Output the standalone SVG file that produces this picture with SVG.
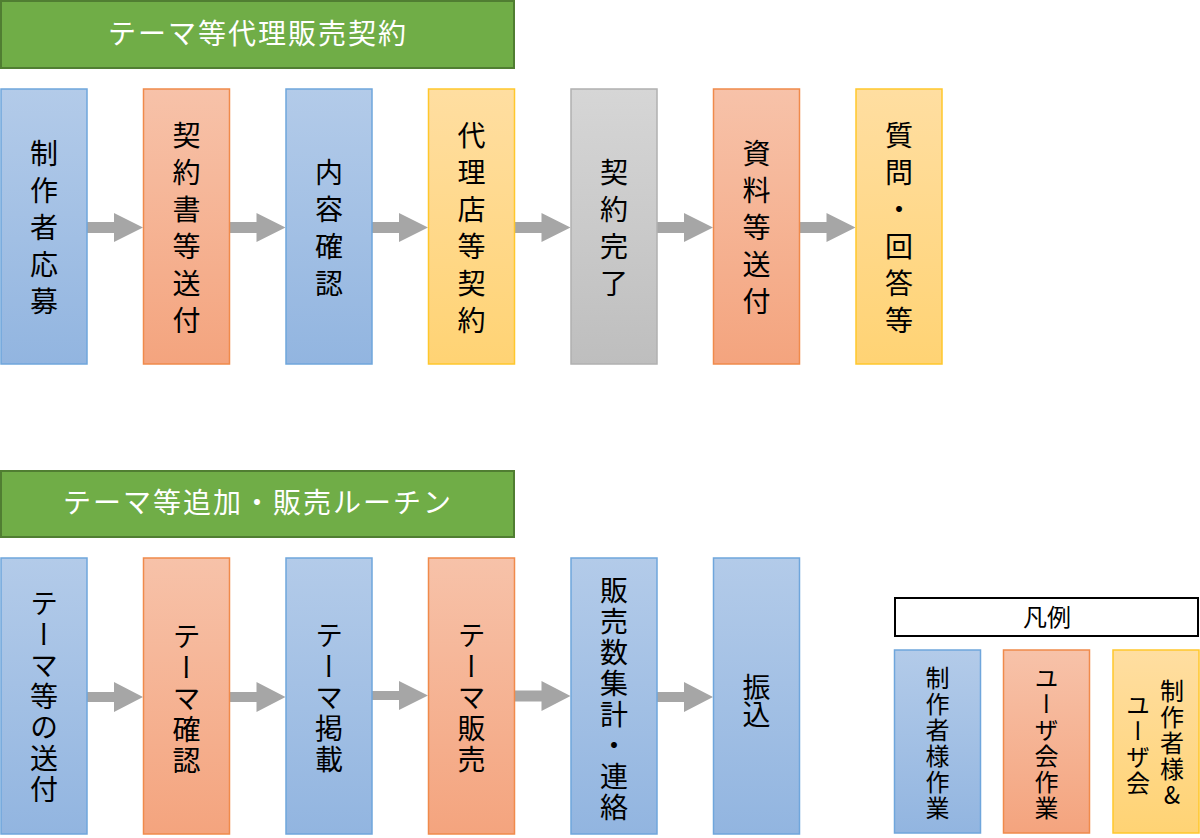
<svg xmlns="http://www.w3.org/2000/svg" width="1200" height="838" viewBox="0 0 1200 838">
<defs>
<linearGradient id="gBlue" x1="0" y1="0" x2="0" y2="1"><stop offset="0" stop-color="#B3CBE9"/><stop offset="1" stop-color="#92B5E0"/></linearGradient>
<linearGradient id="gOrange" x1="0" y1="0" x2="0" y2="1"><stop offset="0" stop-color="#F7C2A9"/><stop offset="1" stop-color="#F4A47E"/></linearGradient>
<linearGradient id="gYellow" x1="0" y1="0" x2="0" y2="1"><stop offset="0" stop-color="#FFDEA1"/><stop offset="1" stop-color="#FFD374"/></linearGradient>
<linearGradient id="gGray" x1="0" y1="0" x2="0" y2="1"><stop offset="0" stop-color="#D6D6D6"/><stop offset="1" stop-color="#BEBEBE"/></linearGradient>
</defs>
<style>
.blue{fill:url(#gBlue);stroke:#6FA6DC;stroke-width:1.5}
.orange{fill:url(#gOrange);stroke:#F08A4B;stroke-width:1.5}
.yellow{fill:url(#gYellow);stroke:#FFC72C;stroke-width:1.5}
.gray{fill:url(#gGray);stroke:#B0B0B0;stroke-width:1.5}
.hdr{fill:#70AD47;stroke:#507E32;stroke-width:2}
.htxt{font-family:"Noto Sans CJK JP","Noto Sans",sans-serif;font-size:28px;fill:#FFFFFF;text-anchor:middle;letter-spacing:2px}
.v{font-family:"Noto Sans CJK JP","Noto Sans",sans-serif;font-size:28px;fill:#000;writing-mode:vertical-rl;text-anchor:middle;letter-spacing:9px}
.v2{font-family:"Noto Sans CJK JP","Noto Sans",sans-serif;font-size:28px;fill:#000;writing-mode:vertical-rl;text-anchor:middle;letter-spacing:3px}
.vl{font-family:"Noto Sans CJK JP","Noto Sans",sans-serif;font-size:24px;fill:#000;writing-mode:vertical-rl;text-anchor:middle;letter-spacing:2px;text-orientation:upright}
.lt{font-family:"Noto Sans CJK JP","Noto Sans",sans-serif;font-size:24px;fill:#000;text-anchor:middle}
.arrow{fill:#A6A6A6}
</style>

<g id="header1"><rect class="hdr" x="1" y="1" width="513" height="67"/><text class="htxt" x="258" y="44">テーマ等代理販売契約</text></g>
<g id="header2"><rect class="hdr" x="1" y="471" width="513" height="66"/><text class="htxt" x="258" y="513">テーマ等追加・販売ルーチン</text></g>

<g id="connectors">
<path class="arrow" d="M87,222 H114 V213 L143,227.5 L114,242 V233 H87 Z"/>
<path class="arrow" d="M229.5,222 H256.5 V213 L285.5,227.5 L256.5,242 V233 H229.5 Z"/>
<path class="arrow" d="M372,222 H399 V213 L428,227.5 L399,242 V233 H372 Z"/>
<path class="arrow" d="M514.5,222 H541.5 V213 L570.5,227.5 L541.5,242 V233 H514.5 Z"/>
<path class="arrow" d="M657,222 H684 V213 L713,227.5 L684,242 V233 H657 Z"/>
<path class="arrow" d="M799.5,222 H826.5 V213 L855.5,227.5 L826.5,242 V233 H799.5 Z"/>
<path class="arrow" d="M87,692 H114 V682 L143,697 L114,712 V702 H87 Z"/>
<path class="arrow" d="M229.5,692 H256.5 V682 L285.5,697 L256.5,712 V702 H229.5 Z"/>
<path class="arrow" d="M372,691 H399 V681 L428,695.5 L399,710 V700 H372 Z"/>
<path class="arrow" d="M514.5,690.5 H541.5 V681 L570.5,696 L541.5,711 V701.5 H514.5 Z"/>
<path class="arrow" d="M657,692 H684 V682 L713,697 L684,712 V702 H657 Z"/>
</g>

<g id="t1"><rect class="blue" x="1" y="89" width="86" height="275"/><text class="v" x="44" y="232">制作者応募</text></g>
<g id="t2"><rect class="orange" x="143.5" y="89" width="86" height="275"/><text class="v" x="186.5" y="232">契約書等送付</text></g>
<g id="t3"><rect class="blue" x="286" y="89" width="86" height="275"/><text class="v" x="329" y="232">内容確認</text></g>
<g id="t4"><rect class="yellow" x="428.5" y="89" width="86" height="275"/><text class="v" x="471.5" y="232">代理店等契約</text></g>
<g id="t5"><rect class="gray" x="571" y="89" width="86" height="275"/><text class="v" x="614" y="232">契約完了</text></g>
<g id="t6"><rect class="orange" x="713.5" y="89" width="86" height="275"/><text class="v" x="756.5" y="232">資料等送付</text></g>
<g id="t7"><rect class="yellow" x="856" y="89" width="86" height="275"/><text class="v" x="899" y="232">質問・回答等</text></g>

<g id="b1"><rect class="blue" x="1" y="558" width="86" height="276"/><text class="v2" x="44" y="698">テーマ等の送付</text></g>
<g id="b2"><rect class="orange" x="143.5" y="558" width="86" height="276"/><text class="v2" x="186.5" y="700">テーマ確認</text></g>
<g id="b3"><rect class="blue" x="286" y="558" width="86" height="276"/><text class="v2" x="329" y="699">テーマ掲載</text></g>
<g id="b4"><rect class="orange" x="428.5" y="558" width="86" height="276"/><text class="v2" x="471.5" y="699">テーマ販売</text></g>
<g id="b5"><rect class="blue" x="571" y="558" width="86" height="276"/><text class="v2" x="614" y="700">販売数集計・連絡</text></g>
<g id="b6"><rect class="blue" x="713.5" y="558" width="86" height="276"/><text class="v2" x="756.5" y="700" style="letter-spacing:-1px">振込</text></g>

<g id="legend">
<rect x="895" y="598" width="303" height="38" fill="#FFFFFF" stroke="#000" stroke-width="2"/>
<text class="lt" x="1047" y="626">凡例</text>
</g>
<g id="legend-maker"><rect class="blue" x="894.5" y="650" width="86" height="183"/><text class="vl" x="937.5" y="744">制作者様作業</text></g>
<g id="legend-user"><rect class="orange" x="1003.5" y="650" width="86" height="183"/><text class="vl" x="1046.5" y="744">ユーザ会作業</text></g>
<g id="legend-both"><rect class="yellow" x="1113" y="650" width="86" height="183"/><text class="vl" x="1172" y="744">制作者様&amp;</text><text class="vl" x="1138" y="745">ユーザ会</text></g>
</svg>
